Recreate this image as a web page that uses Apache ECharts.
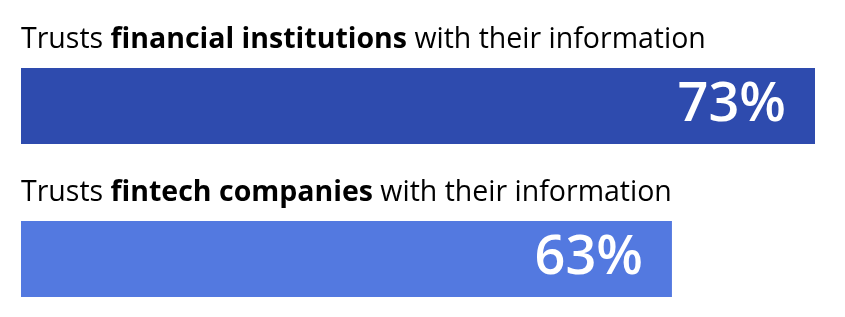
<!DOCTYPE html>
<html>
<head>
<meta charset="utf-8">
<script src="https://cdn.jsdelivr.net/npm/echarts@6/dist/echarts.min.js"></script>
<style>
  html, body { margin: 0; padding: 0; background: #ffffff; }
  #chart { width: 845px; height: 317px; }
</style>
</head>
<body>
<div id="chart"></div>
<script>
// Survey statements (plain prefix, bold subject, plain suffix)
const prefixes = ['Trusts ', 'Trusts '];
const subjects = ['financial institutions', 'fintech companies'];
const suffixes = [' with their information', ' with their information'];
// Share of respondents, in percent
const values = [73, 63];
const barColors = ['#2E4BAE', '#5379E0'];

const categories = subjects.map((s, i) => prefixes[i] + '|' + s + '|' + suffixes[i]);

const chart = echarts.init(document.getElementById('chart'), null, { renderer: 'canvas' });

const FONT = '"Open Sans", sans-serif';

chart.setOption({
  animation: false,
  grid: { left: 21, width: 794, top: 29.5, height: 306, outerBoundsMode: 'none' },
  xAxis: {
    type: 'value',
    min: 17.5,
    max: 73,
    show: false
  },
  yAxis: {
    type: 'category',
    data: categories,
    inverse: true,
    axisLine: { show: false },
    axisTick: { show: false },
    splitLine: { show: false },
    axisLabel: {
      inside: true,
      margin: 0,
      align: 'left',
      verticalAlign: 'middle',
      // lift the statement above its bar
      padding: [0, 0, 132, 0],
      formatter: function (v) {
        const p = v.split('|');
        return '{n|' + p[0] + '}{b|' + p[1] + '}{n|' + p[2] + '}';
      },
      rich: {
        n: { fontFamily: FONT, fontSize: 28.5, fontWeight: 400, color: '#000000' },
        b: { fontFamily: FONT, fontSize: 28.5, fontWeight: 700, color: '#000000' }
      }
    }
  },
  series: [{
    type: 'bar',
    barWidth: 76,
    data: values.map((v, i) => ({ value: v, itemStyle: { color: barColors[i] } })),
    label: {
      show: true,
      position: 'insideRight',
      distance: 29,
      formatter: '{c}%',
      fontFamily: FONT,
      fontSize: 54,
      fontWeight: 600,
      color: '#ffffff'
    }
  }]
});
</script>
</body>
</html>
